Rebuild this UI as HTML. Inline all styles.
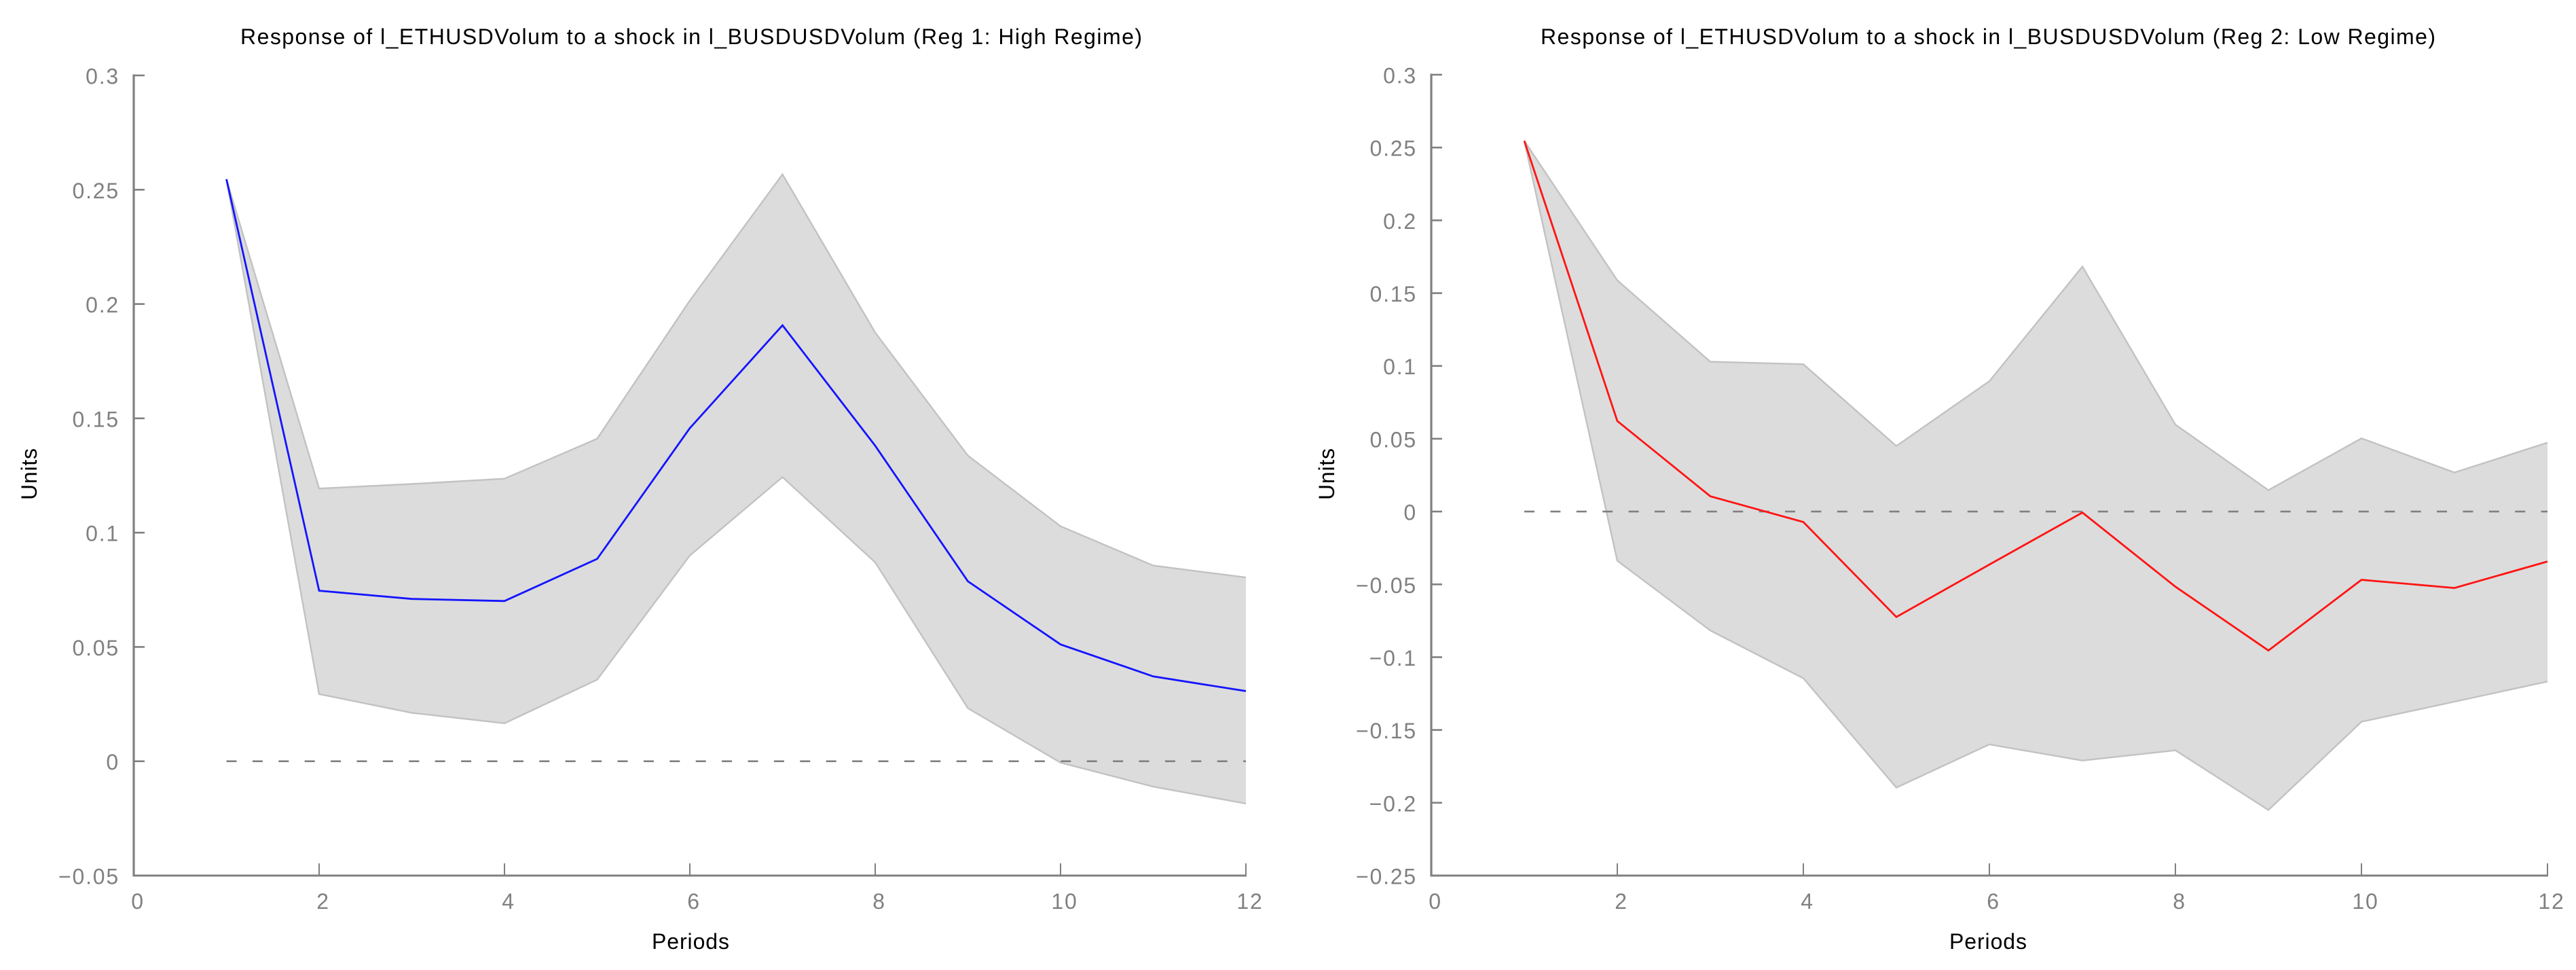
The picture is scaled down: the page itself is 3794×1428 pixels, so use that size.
<!DOCTYPE html>
<html lang="en">
<head>
<meta charset="utf-8">
<title>Impulse responses by regime</title>
<style>
html,body{margin:0;padding:0;background:#fff;width:3794px;height:1428px;overflow:hidden}
svg{display:block}
text{font-family:"Liberation Sans",Arial,sans-serif;font-size:32px}
.title,.axis-title{fill:#000}
.tick-label{fill:#808080;letter-spacing:1.8px}
</style>
</head>
<body>
<svg id="chart" xmlns="http://www.w3.org/2000/svg" width="3794" height="1428" viewBox="0 0 3794 1428">
  <rect x="0" y="0" width="3794" height="1428" fill="#ffffff"/>
  <g id="panel-high">
    <text class="title" x="354" y="65" textLength="1328" lengthAdjust="spacing">Response of l_ETHUSDVolum to a shock in l_BUSDUSDVolum (Reg 1: High Regime)</text>
    <text class="axis-title" x="960" y="1397" textLength="114" lengthAdjust="spacing">Periods</text>
    <text class="axis-title" transform="translate(54 736) rotate(-90)" x="0" y="0" textLength="76" lengthAdjust="spacing">Units</text>
  </g>
  <g id="panel-low">
    <text class="title" x="2269" y="65" textLength="1318" lengthAdjust="spacing">Response of l_ETHUSDVolum to a shock in l_BUSDUSDVolum (Reg 2: Low Regime)</text>
    <text class="axis-title" x="2871" y="1397" textLength="114" lengthAdjust="spacing">Periods</text>
    <text class="axis-title" transform="translate(1965 736) rotate(-90)" x="0" y="0" textLength="76" lengthAdjust="spacing">Units</text>
  </g>
</svg>
<script>
// Shared categories and x ticks
const periods = [1,2,3,4,5,6,7,8,9,10,11,12];
const xTickValues = [0,2,4,6,8,10,12];

// High regime series
const highResponse = [0.2546,0.0746,0.0710,0.0701,0.0885,0.1457,0.1907,0.1380,0.0787,0.0511,0.0371,0.0307];
const highUpper = [0.2546,0.1193,0.1213,0.1236,0.1411,0.2015,0.2567,0.1875,0.1337,0.1028,0.0856,0.0804];
const highLower = [0.2546,0.0294,0.0212,0.0166,0.0357,0.0900,0.1243,0.0870,0.0232,-0.0006,-0.0111,-0.0185];
const highYTicks = [0.3,0.25,0.2,0.15,0.1,0.05,0,-0.05];
const highYLabels = ["0.3","0.25","0.2","0.15","0.1","0.05","0","\u22120.05"];

// Low regime series
const lowResponse = [0.2546,0.0622,0.0105,-0.0072,-0.0724,-0.0364,-0.0007,-0.0516,-0.0954,-0.0469,-0.0525,-0.0343];
const lowUpper = [0.2546,0.1588,0.1029,0.1012,0.0450,0.0895,0.1682,0.0597,0.0147,0.0503,0.0268,0.0473];
const lowLower = [0.2546,-0.0338,-0.0817,-0.1145,-0.1896,-0.1599,-0.1710,-0.1640,-0.2050,-0.1444,-0.1306,-0.1167];
const lowYTicks = [0.3,0.25,0.2,0.15,0.1,0.05,0,-0.05,-0.1,-0.15,-0.2,-0.25];
const lowYLabels = ["0.3","0.25","0.2","0.15","0.1","0.05","0","\u22120.05","\u22120.1","\u22120.15","\u22120.2","\u22120.25"];

const SVG_NS = "http://www.w3.org/2000/svg";
const AXIS_COLOR = "#808080";

function make(parent, tag, attrs) {
  const el = document.createElementNS(SVG_NS, tag);
  for (const k in attrs) el.setAttribute(k, attrs[k]);
  parent.appendChild(el);
  return el;
}

function drawPanel(cfg) {
  const g = document.getElementById(cfg.id);
  const xScale = v => cfg.x0 + (v - cfg.xMin) * (cfg.x1 - cfg.x0) / (cfg.xMax - cfg.xMin);
  const yScale = v => cfg.yBottom + (v - cfg.yMin) * (cfg.yTop - cfg.yBottom) / (cfg.yMax - cfg.yMin);
  const pts = arr => arr.map((v, i) => xScale(periods[i]).toFixed(1) + "," + yScale(v).toFixed(1));

  const band = make(g, "polygon", {
    points: pts(cfg.upper).concat(pts(cfg.lower).reverse()).join(" "),
    fill: "#dcdcdc", stroke: "none"
  });
  
  

  const upperEdge = make(g, "polyline", {
    points: pts(cfg.upper).join(" "), fill: "none", stroke: "#c2c2c2", "stroke-width": 2.4
  });
  
  

  const lowerEdge = make(g, "polyline", {
    points: pts(cfg.lower).join(" "), fill: "none", stroke: "#c2c2c2", "stroke-width": 2.4
  });
  
  

  const zero = make(g, "line", {
    x1: xScale(periods[0]), x2: xScale(periods[periods.length - 1]),
    y1: yScale(0), y2: yScale(0),
    stroke: "#808080", "stroke-width": 2.6, "stroke-dasharray": "15 23.4"
  });
  
  

  const response = make(g, "polyline", {
    points: pts(cfg.response).join(" "), fill: "none", stroke: cfg.color,
    "stroke-width": 2.8, "stroke-linejoin": "miter"
  });
  
  

  const yAxis = make(g, "line", {
    x1: cfg.x0, x2: cfg.x0, y1: cfg.yTop - 1.5, y2: cfg.yBottom + 1.5,
    stroke: AXIS_COLOR, "stroke-width": 3.2
  });
  
  

  const xAxis = make(g, "line", {
    x1: cfg.x0 - 1.5, x2: cfg.x1 + 1, y1: cfg.yBottom, y2: cfg.yBottom,
    stroke: AXIS_COLOR, "stroke-width": 3
  });
  
  

  cfg.yTicks.forEach((v, i) => {
    const y = yScale(v);
    const tick = make(g, "line", {
      x1: cfg.x0, x2: cfg.x0 + 16, y1: y, y2: y, stroke: AXIS_COLOR, "stroke-width": 2.6
    });
    
    
    const label = make(g, "text", {
      class: "tick-label", x: cfg.x0 - 21, y: y + 12.5, "text-anchor": "end"
    });
    label.textContent = cfg.yLabels[i];
    
    
  });

  xTickValues.forEach(v => {
    const x = xScale(v);
    if (v !== 0) {
      const tick = make(g, "line", {
        x1: x, x2: x, y1: cfg.yBottom - 18, y2: cfg.yBottom, stroke: AXIS_COLOR, "stroke-width": 2
      });
      
      
    }
    const label = make(g, "text", {
      class: "tick-label", x: x + 6, y: 1338, "text-anchor": "middle"
    });
    label.textContent = String(v);
    
    
  });
}

drawPanel({
  id: "panel-high", color: "#1414ff",
  x0: 197, x1: 1835, xMin: 0, xMax: 12,
  yTop: 111, yBottom: 1289, yMin: -0.05, yMax: 0.3,
  response: highResponse, upper: highUpper, lower: highLower,
  yTicks: highYTicks, yLabels: highYLabels
});
drawPanel({
  id: "panel-low", color: "#ff1414",
  x0: 2108, x1: 3752, xMin: 0, xMax: 12,
  yTop: 110, yBottom: 1289, yMin: -0.25, yMax: 0.3,
  response: lowResponse, upper: lowUpper, lower: lowLower,
  yTicks: lowYTicks, yLabels: lowYLabels
});
</script>
</body>
</html>
